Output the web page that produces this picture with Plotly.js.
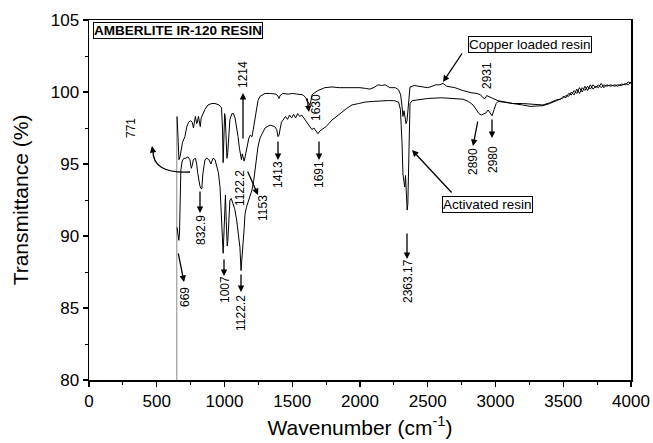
<!DOCTYPE html>
<html>
<head>
<meta charset="utf-8">
<script src="https://cdn.plot.ly/plotly-3.0.1.min.js"></script>
<style>html,body{margin:0;padding:0;background:#fff;}#chart{width:653px;height:443px;}</style>
</head>
<body>
<div id="chart"></div>
<script>
// ---- Data ----
const wnCopper = [650,654,658,664,672,690,708,722,735,750,762,771,778,785,795,800,808,815,821,828,840,856,878,905,930,960,978,985,990,995,1001,1006,1012,1018,1024,1031,1040,1055,1066,1078,1090,1100,1110,1118,1125,1131,1137,1145,1152,1160,1170,1180,1190,1203,1214,1225,1236,1247,1262,1276,1299,1340,1380,1395,1402,1410,1430,1470,1500,1540,1580,1600,1612,1622,1630,1638,1646,1665,1690,1740,1793,1850,1900,1950,2000,2040,2074,2110,2133,2160,2185,2222,2260,2285,2300,2310,2317,2325,2332,2340,2347,2354,2362,2369,2400,2450,2500,2517,2560,2590,2612,2640,2700,2760,2820,2863,2890,2908,2923,2935,2950,2982,3018,3070,3129,3200,3255,3300,3350,3400,3450,3480,3500,3520,3540,3560,3580,3600,3620,3640,3660,3680,3700,3720,3740,3760,3780,3800,3820,3850,3880,3900,3930,3960,3980,4000];
const tCopper = [98.3,97.0,95.7,95.3,95.5,96.5,96.9,97.6,97.9,98.0,97.9,97.5,97.9,98.3,97.8,97.9,98.3,98.0,97.6,98.2,98.5,98.8,99.1,99.2,99.2,99.1,98.9,97.5,95.1,96.8,98.5,98.2,96.5,95.4,95.8,97.2,98.1,98.5,98.5,98.2,97.6,96.9,96.1,95.5,95.3,95.7,95.4,95.2,95.5,95.9,96.4,96.8,97.0,96.9,97.5,98.1,98.9,99.4,99.7,99.8,99.9,99.9,99.85,99.7,99.55,99.75,99.9,99.85,99.9,99.85,99.8,99.6,99.3,99.25,99.1,99.4,99.8,99.95,100.1,100.3,100.35,100.3,100.3,100.35,100.3,100.25,100.2,100.35,100.5,100.45,100.5,100.3,100.3,100.15,99.8,99.0,98.3,98.7,98.3,97.8,98.0,98.8,99.9,100.35,100.45,100.4,100.3,100.35,100.5,100.5,100.6,100.4,100.3,100.1,99.95,99.9,99.8,99.6,99.55,99.75,99.7,99.55,99.4,99.3,99.2,99.2,99.15,99.1,99.1,99.25,99.45,99.5,99.7,99.6,99.9,99.8,100.1,99.9,100.3,100.0,100.4,100.1,100.5,100.2,100.4,100.3,100.6,100.3,100.5,100.4,100.5,100.4,100.55,100.5,100.7,100.6];

const wnActivated = [650,656,663,668,672,678,688,700,715,730,745,755,762,770,785,795,802,810,818,826,833,840,848,856,870,885,900,915,930,945,955,967,977,985,990,995,1000,1007,1013,1020,1025,1032,1040,1050,1063,1075,1090,1102,1114,1122,1130,1137,1145,1151,1162,1173,1188,1203,1215,1225,1236,1247,1262,1276,1299,1336,1370,1385,1395,1402,1410,1420,1432,1450,1465,1480,1495,1510,1525,1540,1555,1570,1585,1600,1616,1630,1645,1660,1675,1690,1705,1720,1750,1793,1830,1867,1900,1941,1990,2037,2100,2150,2200,2250,2285,2298,2305,2310,2317,2324,2330,2336,2342,2348,2353,2358,2363,2369,2385,2420,2500,2600,2700,2760,2800,2834,2860,2878,2895,2912,2930,2945,2960,2975,2990,3005,3020,3060,3129,3200,3255,3300,3350,3400,3450,3480,3500,3520,3540,3560,3580,3600,3620,3640,3660,3680,3700,3720,3740,3760,3780,3800,3820,3850,3880,3900,3930,3960,3980,4000];
const tActivated = [90.6,90.1,89.7,90.2,92.8,94.6,95.2,95.4,95.4,95.5,95.3,94.7,94.9,95.3,95.4,95.0,94.4,93.9,93.5,93.3,93.3,94.3,95.0,95.3,95.4,95.3,95.0,95.4,95.3,94.8,94.4,93.4,91.8,89.8,88.8,90.0,91.8,92.85,91.0,89.3,89.7,91.5,92.5,92.6,92.3,91.9,91.1,90.3,89.2,87.6,88.4,89.5,90.5,91.5,92.0,92.3,92.8,93.2,93.8,94.5,95.4,96.2,96.8,97.1,97.5,97.7,97.6,97.4,96.9,97.0,97.5,97.9,98.05,98.3,98.1,98.4,98.2,98.45,98.2,98.5,98.3,98.4,98.2,98.0,97.7,97.6,97.4,97.5,97.3,97.1,97.3,97.4,97.6,98.05,98.3,98.6,98.85,99.1,99.2,99.3,99.35,99.4,99.4,99.4,99.3,98.8,97.8,96.5,94.3,93.6,93.4,94.2,93.0,91.8,92.2,94.5,97.5,99.2,99.4,99.45,99.55,99.6,99.55,99.5,99.35,99.1,98.75,98.5,98.4,98.5,98.55,98.75,98.5,98.35,98.8,99.2,99.35,99.3,99.2,99.1,99.0,99.0,99.05,99.2,99.4,99.55,99.6,99.75,99.7,100.0,99.8,100.2,99.9,100.3,100.1,100.4,100.2,100.5,100.3,100.5,100.3,100.5,100.4,100.5,100.4,100.5,100.45,100.6,100.5,100.7];

const wnStartLine = [648, 648];
const tStartLine = [80, 98.3];

// ---- pixel helpers for annotation placement ----
const X = px => (px - 89) / 542 * 4000;
const Y = py => 105 - (py - 20) / 360 * 25;

const FONT = 'Liberation Sans, Arial, sans-serif';

const traces = [
  {x: wnStartLine, y: tStartLine, mode: 'lines', line: {color: '#888', width: 1}, showlegend: false, hoverinfo: 'skip'},
  {x: wnActivated, y: tActivated, mode: 'lines', name: 'Activated resin', line: {color: '#000', width: 1}, showlegend: false},
  {x: wnCopper, y: tCopper, mode: 'lines', name: 'Copper loaded resin', line: {color: '#000', width: 1}, showlegend: false}
];

function arrow(tx, ty, hx, hy) {
  return {xref: 'x', yref: 'y', axref: 'x', ayref: 'y', x: X(hx), y: Y(hy), ax: X(tx), ay: Y(ty),
    text: '', showarrow: true, arrowhead: 2, arrowsize: 1, arrowwidth: 1.3, arrowcolor: '#000'};
}
function vlabel(t, cx, cy) {
  return {xref: 'x', yref: 'y', x: X(cx), y: Y(cy), text: t, showarrow: false, textangle: -90,
    font: {family: FONT, size: 12, color: '#000'}, xanchor: 'center', yanchor: 'middle'};
}
function boxLabel(t, cx, cy, bold) {
  return {xref: 'x', yref: 'y', x: X(cx), y: Y(cy), text: bold ? '<b>' + t + '</b>' : t, showarrow: false,
    font: {family: FONT, size: 13.5, color: '#000'}, bgcolor: '#fff', bordercolor: '#000', borderwidth: 1, borderpad: 0,
    xanchor: 'center', yanchor: 'middle'};
}

const annotations = [
  arrow(178, 252, 184, 282),
  arrow(200, 190, 200, 213),
  arrow(224, 258, 224, 276),
  arrow(241, 273, 241, 292),
  arrow(247, 170, 258, 195),
  arrow(243, 140, 243, 93),
  arrow(278, 140, 278, 160),
  arrow(319, 140, 319, 160),
  arrow(307, 97, 309, 112),
  arrow(407, 232, 407, 259),
  arrow(478, 120, 473, 146),
  arrow(492, 118, 492, 138),
  arrow(463, 52, 443, 82),
  arrow(453, 194, 412, 150),
  arrow(153, 152, 152, 146),
  vlabel('771', 131, 128),
  vlabel('669', 185, 297),
  vlabel('832.9', 201, 230),
  vlabel('1007', 225, 290),
  vlabel('1122.2', 241, 313),
  vlabel('1122.2', 240, 188),
  vlabel('1153', 263, 208),
  vlabel('1214', 243, 75),
  vlabel('1413', 278, 175),
  vlabel('1691', 319, 175),
  vlabel('1630', 316, 108),
  vlabel('2363.17', 408, 281),
  vlabel('2890', 473, 162),
  vlabel('2980', 493, 160),
  vlabel('2931', 487, 76),
  boxLabel('Copper loaded resin', 530, 44, false),
  boxLabel('Activated resin', 487, 204, false),
  boxLabel('AMBERLITE IR-120 RESIN', 178, 30, true)
];

const shapes = [
  {type: 'path', xref: 'x', yref: 'y',
   path: 'M ' + X(190) + ',' + Y(172) + ' Q ' + X(152) + ',' + Y(174) + ' ' + X(153) + ',' + Y(150),
   line: {color: '#000', width: 1.3}}
];

const layout = {
  width: 653, height: 443,
  margin: {l: 89, r: 22, t: 20, b: 63},
  paper_bgcolor: '#fff', plot_bgcolor: '#fff',
  font: {family: FONT, color: '#000'},
  showlegend: false,
  xaxis: {
    range: [0, 4000], dtick: 500, tick0: 0,
    ticks: 'outside', ticklen: 5, tickwidth: 1.3, tickcolor: '#000',
    minor: {dtick: 250, ticks: 'outside', ticklen: 3, tickwidth: 1, tickcolor: '#000'},
    showline: true, linecolor: '#000', linewidth: 1.5, mirror: true,
    showgrid: false, zeroline: false,
    tickfont: {family: FONT, size: 17, color: '#000'},
    title: {text: 'Wavenumber (cm<sup>-1</sup>)', font: {family: FONT, size: 21, color: '#000'}, standoff: 10}
  },
  yaxis: {
    range: [80, 105], dtick: 5, tick0: 80,
    ticks: 'outside', ticklen: 5, tickwidth: 1.3, tickcolor: '#000',
    minor: {dtick: 2.5, ticks: 'outside', ticklen: 3, tickwidth: 1, tickcolor: '#000'},
    showline: true, linecolor: '#000', linewidth: 1.5, mirror: true,
    showgrid: false, zeroline: false,
    tickfont: {family: FONT, size: 17, color: '#000'},
    title: {text: 'Transmittance (%)', font: {family: FONT, size: 21, color: '#000'}, standoff: 16}
  },
  annotations: annotations,
  shapes: shapes
};

Plotly.newPlot('chart', traces, layout, {displayModeBar: false, staticPlot: true});
</script>
</body>
</html>
